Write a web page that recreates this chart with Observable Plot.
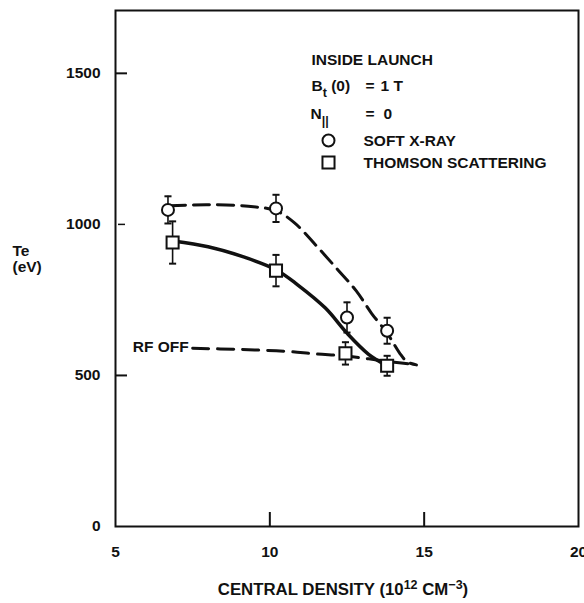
<!DOCTYPE html>
<html>
<head>
<meta charset="utf-8">
<script src="https://cdn.jsdelivr.net/npm/d3@7"></script>
<script src="https://cdn.jsdelivr.net/npm/@observablehq/plot@0.6"></script>
<style>
  html, body { margin: 0; padding: 0; background: #fff; }
  #chart svg { display: block; }
</style>
</head>
<body>
<div id="chart"></div>
<script>
// ---- data ----
const xTicks = [5, 10, 15, 20];
const yTicks = [0, 500, 1000, 1500];

const softXrayDensity = [6.7, 10.2, 12.5, 13.8];
const softXrayTe      = [1048, 1053, 692, 648];
const softXrayErr     = [45, 45, 50, 43];

const thomsonDensity  = [6.85, 10.2, 12.45, 13.8];
const thomsonTe       = [940, 847, 573, 532];
const thomsonErr      = [70, 52, 37, 33];

const softXrayFitDensity = [6.75, 8.0, 9.3, 10.2, 10.8, 11.5, 12.2, 12.8, 13.3, 13.8, 14.2, 14.45, 14.75];
const softXrayFitTe      = [1062, 1065, 1060, 1045, 1005, 930, 850, 780, 705, 640, 575, 545, 535];

const thomsonFitDensity = [6.86, 8.0, 9.1, 10.2, 10.9, 11.8, 12.5, 13.2, 13.75];
const thomsonFitTe      = [945, 926, 894, 850, 800, 723, 640, 570, 535];

const rfOffDensity = [7.5, 9.0, 10.5, 11.5, 12.4, 13.2, 13.8, 14.7];
const rfOffTe      = [590, 586, 580, 571, 565, 555, 546, 537];

const legendLabels = ["SOFT X-RAY", "THOMSON SCATTERING"];

// ---- tables ----
const pts = (xs, ys, es) => xs.map((x, i) => ({density: x, te: ys[i], err: es ? es[i] : 0}));
const softXray = pts(softXrayDensity, softXrayTe, softXrayErr);
const thomson = pts(thomsonDensity, thomsonTe, thomsonErr);
const softXrayFit = pts(softXrayFitDensity, softXrayFitTe);
const thomsonFit = pts(thomsonFitDensity, thomsonFitTe);
const rfOff = pts(rfOffDensity, rfOffTe);

const cap = {draw(ctx, size) { const w = Math.sqrt(size); ctx.moveTo(-w / 2, 0); ctx.lineTo(w / 2, 0); }};
const font = "'Liberation Sans', Arial, Helvetica, sans-serif";
const ink = "#111";
const FS = 15.5;

const note = (txt, dx, dy, extra = {}) =>
  Plot.text([txt], {frameAnchor: "top-left", dx, dy, textAnchor: "start", lineAnchor: "middle", fontWeight: "bold", fontSize: FS, fill: ink, ...extra});

const errMarks = (data) => [
  Plot.ruleX(data, {x: "density", y1: d => d.te - d.err, y2: d => d.te + d.err, stroke: ink, strokeWidth: 1.6}),
  Plot.dot(data, {x: "density", y: d => d.te + d.err, symbol: cap, r: 4, fill: "none", stroke: ink, strokeWidth: 2}),
  Plot.dot(data, {x: "density", y: d => d.te - d.err, symbol: cap, r: 4, fill: "none", stroke: ink, strokeWidth: 2})
];

const plot = Plot.plot({
  width: 584,
  height: 603,
  marginLeft: 115,
  marginRight: 6,
  marginTop: 10,
  marginBottom: 77,
  style: {fontFamily: font, fontSize: FS + "px", fontWeight: "bold", background: "#fff", color: ink, overflow: "visible"},
  x: {domain: [5, 20]},
  y: {domain: [0, 1708]},
  marks: [
    // axes
    Plot.axisY({ticks: yTicks, tickSize: 0, tickPadding: 15, tickFormat: d => String(d), fontSize: FS, fontWeight: "bold", label: null}),
    Plot.axisY({ticks: [500, 1500], tickSize: 12, dx: 12, tickFormat: () => "", strokeWidth: 2, label: null}),
    Plot.axisY({ticks: [1000], tickSize: 7, dx: 10, tickFormat: () => "", strokeWidth: 1.5, label: null}),
    Plot.axisX({ticks: xTicks, tickSize: 0, tickPadding: 19, tickFormat: d => String(d), fontSize: FS, fontWeight: "bold", label: null}),
    Plot.axisX({ticks: [10, 15], tickSize: 14, dy: -14, tickFormat: () => "", strokeWidth: 2, label: null}),
    Plot.frame({stroke: ink, strokeWidth: 2}),
    // axis titles
    Plot.text(["Te\n(eV)"], {frameAnchor: "left", dx: -103, dy: -10, textAnchor: "start", lineAnchor: "middle", lineHeight: 1.05, fontWeight: "bold", fontSize: FS, fill: ink}),
    Plot.text(["CENTRAL DENSITY (10^{12} CM^{−3})"], {frameAnchor: "bottom", lineAnchor: "middle", dx: -4, dy: 63, fontWeight: "bold", fontSize: 16.8, fill: ink}),
    // fitted curves
    Plot.line(rfOff, {x: "density", y: "te", curve: "catmull-rom", stroke: ink, strokeWidth: 3, strokeDasharray: "16,9"}),
    Plot.line(softXrayFit, {x: "density", y: "te", curve: "catmull-rom", stroke: ink, strokeWidth: 3, strokeDasharray: "16,8"}),
    Plot.line(thomsonFit, {x: "density", y: "te", curve: "catmull-rom", stroke: ink, strokeWidth: 3.5}),
    Plot.text([rfOff[0]], {x: "density", y: "te", text: () => "RF OFF", textAnchor: "end", dx: -4, dy: -1, fontWeight: "bold", fontSize: FS, fill: ink}),
    // error bars + markers
    ...errMarks(softXray),
    ...errMarks(thomson),
    Plot.dot(softXray, {x: "density", y: "te", r: 6, fill: "#fff", stroke: ink, strokeWidth: 2}),
    Plot.dot(thomson, {x: "density", y: "te", symbol: "square", r: 6.8, fill: "#fff", stroke: ink, strokeWidth: 2}),
    // in-plot legend / notes
    note("INSIDE LAUNCH", 196, 50),
    note("B_{t} (0)", 196, 76),
    note("=", 250, 76),
    note("1 T", 265, 76),
    note("N_{||}", 195, 104),
    note("=", 250, 104),
    note("0", 268, 104),
    Plot.dot([legendLabels[0]], {frameAnchor: "top-left", dx: 213, dy: 130, r: 6, fill: "#fff", stroke: ink, strokeWidth: 2}),
    Plot.dot([legendLabels[1]], {frameAnchor: "top-left", dx: 213, dy: 152, symbol: "square", r: 6.8, fill: "#fff", stroke: ink, strokeWidth: 2}),
    note(legendLabels[0], 248, 131),
    note(legendLabels[1], 248, 153)
  ]
});

document.getElementById("chart").appendChild(plot);

// rich text: _{sub} and ^{sup}
const NS = "http://www.w3.org/2000/svg";
plot.querySelectorAll("text").forEach(el => {
  const s = el.textContent;
  if (!/[_^]\{/.test(s)) return;
  const re = /([_^])\{([^}]*)\}/g;
  const parts = [];
  let last = 0, m;
  while ((m = re.exec(s))) {
    if (m.index > last) parts.push({t: null, s: s.slice(last, m.index)});
    parts.push({t: m[1], s: m[2]});
    last = re.lastIndex;
  }
  if (last < s.length) parts.push({t: null, s: s.slice(last)});
  while (el.firstChild) el.removeChild(el.firstChild);
  let shift = 0;
  for (const p of parts) {
    const ts = document.createElementNS(NS, "tspan");
    const target = p.t === "^" ? -6 : p.t === "_" ? 6 : 0;
    if (target - shift !== 0) ts.setAttribute("dy", target - shift);
    shift = target;
    if (p.t) ts.setAttribute("font-size", "12.5");
    ts.textContent = p.s;
    el.appendChild(ts);
  }
});
</script>
</body>
</html>
